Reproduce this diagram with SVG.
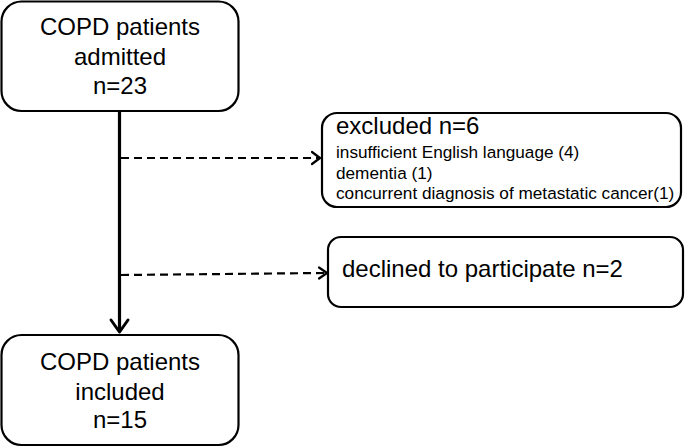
<svg xmlns="http://www.w3.org/2000/svg" width="685" height="448" viewBox="0 0 685 448">
<style>
.box{fill:#fff;stroke:#000;stroke-width:2.2}
.t{font-family:"Liberation Sans",Arial,sans-serif;fill:#000}
.big{font-size:24px}
.small{font-size:17.2px}
.dash{stroke:#000;stroke-width:2.2;stroke-dasharray:8 5;fill:none}
.head{stroke:#000;fill:none;stroke-linecap:round;stroke-linejoin:round}
</style>
<rect width="685" height="448" fill="#fff"/>
<g id="connectors">
<line x1="119.5" y1="111" x2="119.5" y2="332" stroke="#000" stroke-width="3.2"/>
<polyline class="head" stroke-width="3" points="111,320 119.5,332 128,320"/>
<line class="dash" x1="121" y1="158" x2="318" y2="158"/>
<polyline class="head" stroke-width="2.2" points="312,152 320,158 312,164"/>
<line class="dash" x1="121" y1="275" x2="325" y2="273"/>
<polyline class="head" stroke-width="2.2" points="319,267.5 327,273 319,278.5"/>
</g>
<g id="admitted">
<rect class="box" x="1.5" y="1.5" width="237" height="109.5" rx="20"/>
<text class="t big" x="120" y="35" text-anchor="middle">COPD patients</text>
<text class="t big" x="120" y="65" text-anchor="middle">admitted</text>
<text class="t big" x="120" y="94" text-anchor="middle">n=23</text>
</g>
<g id="excluded">
<rect class="box" x="322" y="113" width="359" height="94" rx="15"/>
<text class="t big" x="336" y="134">excluded n=6</text>
<text class="t small" x="336" y="158">insufficient English language (4)</text>
<text class="t small" x="336" y="179">dementia (1)</text>
<text class="t small" x="336" y="199">concurrent diagnosis of metastatic cancer(1)</text>
</g>
<g id="declined">
<rect class="box" x="328" y="237" width="355" height="70" rx="13"/>
<text class="t big" x="342" y="277">declined to participate n=2</text>
</g>
<g id="included">
<rect class="box" x="1.5" y="335" width="237" height="110" rx="20"/>
<text class="t big" x="120" y="370" text-anchor="middle">COPD patients</text>
<text class="t big" x="120" y="400" text-anchor="middle">included</text>
<text class="t big" x="120" y="428" text-anchor="middle">n=15</text>
</g>
</svg>
